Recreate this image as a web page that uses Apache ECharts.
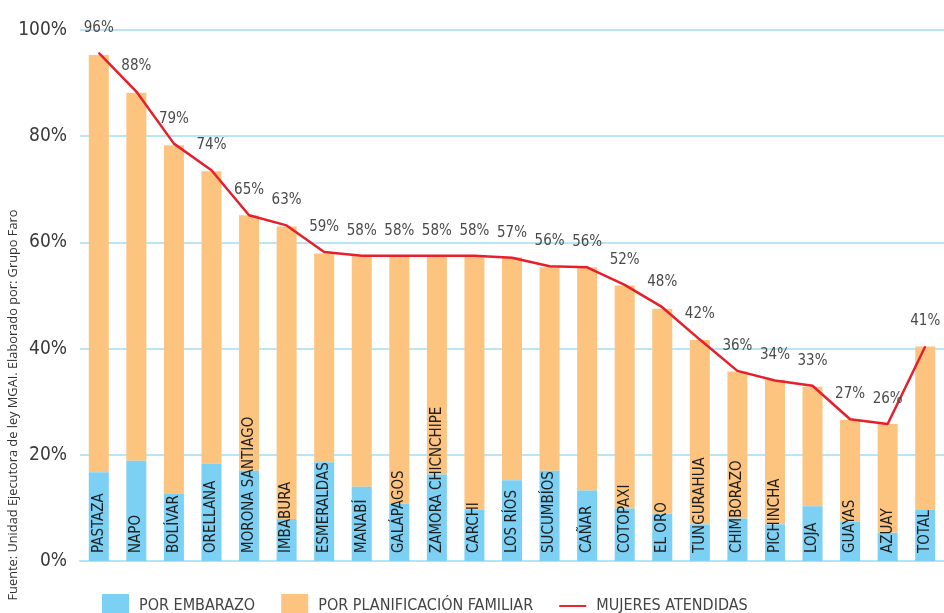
<!DOCTYPE html>
<html>
<head>
<meta charset="utf-8">
<script src="https://cdn.jsdelivr.net/npm/echarts@6/dist/echarts.min.js"></script>
<style>
  html, body { margin: 0; padding: 0; background: #fff; }
  #chart { width: 944px; height: 613px; }
</style>
</head>
<body>
<div id="chart"></div>
<script>
const categories = [
  'PASTAZA', 'NAPO', 'BOLÍVAR', 'ORELLANA', 'MORONA SANTIAGO', 'IMBABURA',
  'ESMERALDAS', 'MANABÍ', 'GALÁPAGOS', 'ZAMORA CHICNCHIPE', 'CARCHI', 'LOS RÍOS',
  'SUCUMBÍOS', 'CAÑAR', 'COTOPAXI', 'EL ORO', 'TUNGURAHUA', 'CHIMBORAZO',
  'PICHINCHA', 'LOJA', 'GUAYAS', 'AZUAY', 'TOTAL'
]
const porEmbarazo = [16.7, 18.9, 12.6, 18.3, 17.0, 7.9, 18.6, 14.0, 10.8, 16.3, 9.6, 15.2, 17.0, 13.3, 9.9, 8.9, 6.9, 8.0, 6.9, 10.3, 7.4, 5.3, 9.6]
const porPlanificacion = [78.6, 69.3, 65.7, 55.1, 48.1, 55.1, 39.3, 43.4, 46.6, 41.1, 47.8, 42.0, 38.3, 42.0, 42.0, 38.6, 34.7, 27.7, 27.2, 22.5, 19.2, 20.5, 30.8]
const mujeresAtendidas = [95.7, 88.4, 78.6, 73.6, 65.1, 63.2, 58.2, 57.5, 57.5, 57.5, 57.5, 57.1, 55.5, 55.3, 52.0, 47.8, 41.7, 35.8, 34.0, 33.0, 26.7, 25.8, 40.4]
const atendidasLabels = ['96%', '88%', '79%', '74%', '65%', '63%', '59%', '58%', '58%', '58%', '58%', '57%', '56%', '56%', '52%', '48%', '42%', '36%', '34%', '33%', '27%', '26%', '41%']
const yTicks = [0, 20, 40, 60, 80, 100]

const narrow = "'Liberation Sans Narrow', 'Arial Narrow', 'DejaVu Sans Condensed', sans-serif"

const chart = echarts.init(document.getElementById('chart'))

chart.setOption({
  animation: false,
  grid: { left: 80, right: -6, top: 30, bottom: 52 },
  legend: {
    left: 97,
    top: 589,
    itemWidth: 27,
    itemHeight: 24,
    itemGap: 26,
    symbolKeepAspect: true,
    textStyle: { fontFamily: narrow, fontSize: 16, color: '#444', padding: [0, 0, 0, 5] },
    data: [
      { name: 'POR EMBARAZO', icon: 'rect' },
      { name: 'POR PLANIFICACIÓN FAMILIAR', icon: 'rect' },
      { name: 'MUJERES ATENDIDAS', icon: 'path://M0,0 H35 V2.5 H0 Z' }
    ]
  },
  graphic: [
    {
      type: 'text',
      x: 13,
      y: 405,
      rotation: Math.PI / 2,
      style: {
        text: 'Fuente: Unidad Ejecutora de ley MGAI. Elaborado por: Grupo Faro',
        fontFamily: "'Open Sans', sans-serif",
        fontSize: 12.8,
        fill: '#333',
        align: 'center',
        verticalAlign: 'middle'
      }
    }
  ],
  xAxis: {
    type: 'category',
    data: categories,
    axisTick: { show: false },
    axisLabel: { show: false },
    axisLine: { lineStyle: { color: '#b3e3f6', width: 2 } }
  },
  yAxis: {
    type: 'value',
    min: yTicks[0],
    max: yTicks[yTicks.length - 1],
    interval: 20,
    axisLabel: {
      formatter: '{value}%',
      fontFamily: narrow,
      fontSize: 19,
      color: '#3a3a3a',
      margin: 13
    },
    splitLine: { lineStyle: { color: '#a3dcf3', width: 1.5 } }
  },
  series: [
    {
      name: 'POR EMBARAZO',
      type: 'bar',
      stack: 'total',
      barWidth: 20,
      z: 3,
      data: porEmbarazo,
      itemStyle: { color: '#7bd0f4' },
      label: {
        show: true,
        formatter: '{b}',
        position: 'insideBottom',
        rotate: 90,
        align: 'left',
        verticalAlign: 'middle',
        distance: 8,
        fontFamily: narrow,
        fontSize: 15,
        color: '#1e1e1e'
      }
    },
    {
      name: 'POR PLANIFICACIÓN FAMILIAR',
      type: 'bar',
      stack: 'total',
      barWidth: 20,
      data: porPlanificacion,
      itemStyle: { color: '#fdc47f' }
    },
    {
      name: 'MUJERES ATENDIDAS',
      type: 'line',
      z: 4,
      data: mujeresAtendidas,
      symbol: 'circle',
      symbolSize: 1,
      showSymbol: true,
      lineStyle: { color: '#e5202a', width: 2.5 },
      itemStyle: { color: '#e5202a' },
      label: {
        show: true,
        position: 'top',
        distance: 17,
        formatter: (p) => atendidasLabels[p.dataIndex],
        fontFamily: narrow,
        fontSize: 15,
        color: '#4a4a4a'
      }
    }
  ]
})
</script>
</body>
</html>
